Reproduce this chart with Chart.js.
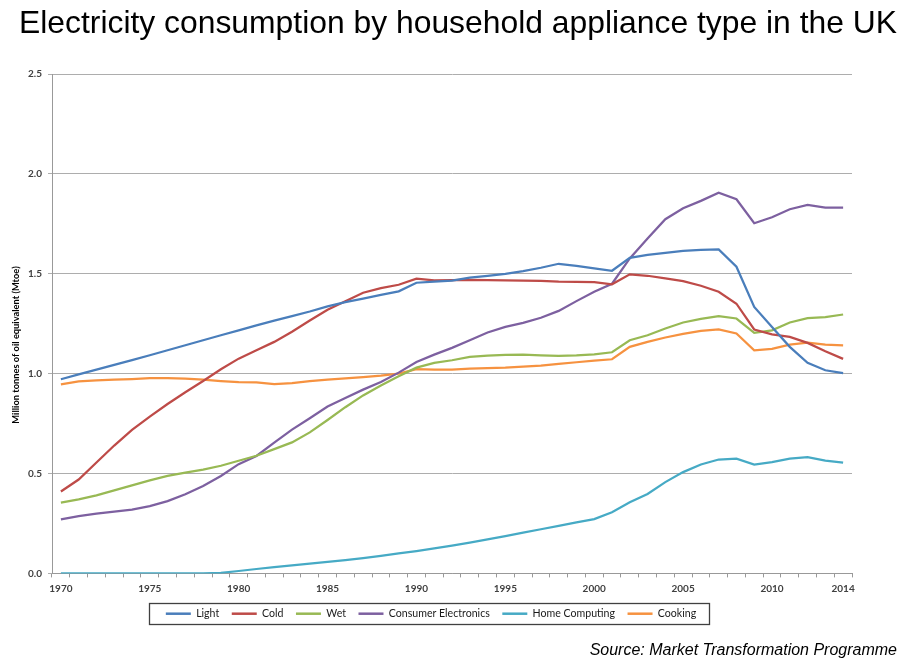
<!DOCTYPE html>
<html>
<head>
<meta charset="utf-8">
<script src="https://cdn.jsdelivr.net/npm/chart.js@4.4.1/dist/chart.umd.min.js"></script>
<style>
html,body{margin:0;padding:0;background:#fff;}
#wrap{width:907px;height:665px;position:relative;}
</style>
</head>
<body>
<div id="wrap"><canvas id="c"></canvas></div>
<script>
const chartTitle = 'Electricity consumption by household appliance type in the UK';
const sourceText = 'Source: Market Transformation Programme';
const yAxisTitle = 'Million tonnes of oil equivalent (Mtoe)';

const years = ['1970','1971','1972','1973','1974','1975','1976','1977','1978','1979',
  '1980','1981','1982','1983','1984','1985','1986','1987','1988','1989',
  '1990','1991','1992','1993','1994','1995','1996','1997','1998','1999',
  '2000','2001','2002','2003','2004','2005','2006','2007','2008','2009',
  '2010','2011','2012','2013','2014'];
const xTickLabels = ['1970','1975','1980','1985','1990','1995','2000','2005','2010','2014'];
const yTickValues = [0, 0.5, 1.0, 1.5, 2.0, 2.5];

const light = [0.972,0.996,1.020,1.044,1.068,1.092,1.117,1.142,1.167,1.192,
  1.217,1.242,1.265,1.288,1.311,1.337,1.358,1.376,1.394,1.412,
  1.455,1.461,1.466,1.481,1.490,1.500,1.513,1.530,1.550,1.540,
  1.527,1.515,1.580,1.595,1.605,1.614,1.620,1.622,1.535,1.334,
  1.234,1.134,1.054,1.017,1.003];
const cold = [0.410,0.470,0.555,0.640,0.718,0.785,0.848,0.907,0.963,1.022,
  1.075,1.117,1.159,1.210,1.266,1.320,1.362,1.405,1.428,1.445,
  1.475,1.467,1.468,1.470,1.468,1.467,1.466,1.465,1.461,1.460,
  1.458,1.447,1.497,1.490,1.477,1.463,1.440,1.410,1.350,1.221,
  1.197,1.184,1.154,1.112,1.074];
const wet = [0.354,0.371,0.391,0.416,0.441,0.466,0.488,0.505,0.520,0.539,
  0.564,0.589,0.622,0.656,0.706,0.768,0.832,0.891,0.941,0.987,
  1.030,1.054,1.067,1.084,1.090,1.094,1.095,1.092,1.089,1.092,
  1.097,1.107,1.167,1.192,1.226,1.256,1.274,1.288,1.276,1.204,
  1.217,1.256,1.278,1.283,1.296];
const consumerElectronics = [0.270,0.287,0.299,0.309,0.319,0.337,0.362,0.396,0.438,0.488,
  0.547,0.588,0.655,0.720,0.777,0.835,0.878,0.920,0.958,1.005,
  1.058,1.095,1.129,1.167,1.206,1.234,1.254,1.280,1.314,1.363,
  1.410,1.450,1.577,1.677,1.773,1.828,1.865,1.906,1.873,1.753,
  1.783,1.823,1.845,1.831,1.831];
const homeComputing = [0,0,0,0,0,0,0,0,0,0.003,
  0.012,0.022,0.031,0.040,0.049,0.058,0.067,0.077,0.088,0.100,
  0.112,0.125,0.139,0.154,0.170,0.187,0.204,0.221,0.238,0.255,
  0.272,0.306,0.356,0.398,0.457,0.507,0.545,0.570,0.574,0.545,
  0.557,0.574,0.582,0.565,0.555];
const cooking = [0.946,0.961,0.966,0.970,0.973,0.977,0.977,0.975,0.970,0.963,
  0.957,0.956,0.948,0.953,0.962,0.970,0.976,0.983,0.990,1.000,
  1.022,1.020,1.020,1.025,1.027,1.030,1.035,1.040,1.049,1.057,
  1.065,1.072,1.134,1.159,1.181,1.199,1.214,1.222,1.201,1.117,
  1.124,1.145,1.155,1.145,1.142];

const seriesNames = ['Light','Cold','Wet','Consumer Electronics','Home Computing','Cooking'];
const seriesData = [light, cold, wet, consumerElectronics, homeComputing, cooking];
const seriesColors = ['#4A7EBB','#BE4B48','#98B954','#7D60A0','#46AAC5','#F69240'];

const LEGEND_CENTER_X = 431;

const legendPlugin = {
  id: 'legendPlace',
  beforeDraw(chart) {
    const lg = chart.legend;
    if (!lg) return;
    const dx = LEGEND_CENTER_X - (lg.left + lg.right) / 2;
    lg.left += dx; lg.right += dx;
  },
  afterDraw(chart) {
    const lg = chart.legend;
    const ctx = chart.ctx;
    if (lg && lg.lineWidths) {
      const p = lg.options.labels.padding;
      const lw = lg.lineWidths[0];
      const startX = (lg.left + p + lg.right - lw) / 2;
      const endX = startX + lw - p;
      const cy = lg.top + p + 11 / 2;
      ctx.save();
      ctx.strokeStyle = '#404040';
      ctx.lineWidth = 1.3;
      ctx.strokeRect(Math.round(startX - 17) + 0.5, Math.round(cy - 10.5) + 0.5,
                     Math.round(endX - startX + 30), 21);
      ctx.restore();
    }
    // y axis title
    ctx.save();
    ctx.translate(16, 345);
    ctx.rotate(-Math.PI / 2);
    ctx.textAlign = 'center';
    ctx.textBaseline = 'middle';
    ctx.fillStyle = '#000';
    ctx.font = 'bold 9.3px Lato, sans-serif';
    ctx.fillText(yAxisTitle, 0, 0);
    ctx.restore();
  }
};

Chart.defaults.font.family = 'Lato, sans-serif';

new Chart(document.getElementById('c'), {
  type: 'line',
  data: {
    labels: years,
    datasets: seriesNames.map((n, i) => ({
      label: n,
      data: seriesData[i],
      borderColor: seriesColors[i],
      backgroundColor: seriesColors[i],
      borderWidth: 2.25,
      pointRadius: 0,
      tension: 0,
      fill: false
    }))
  },
  options: {
    responsive: true,
    maintainAspectRatio: false,
    animation: false,
    events: [],
    layout: { padding: { left: 19, right: 10, top: 0, bottom: 0 } },
    plugins: {
      title: {
        display: true, text: chartTitle, color: '#000',
        font: { family: '"Liberation Sans", Arial, sans-serif', size: 32, weight: 'normal' },
        padding: { top: 4.8, bottom: 30.8 }
      },
      subtitle: {
        display: true, text: sourceText, position: 'bottom', align: 'end', color: '#000',
        font: { family: '"Liberation Sans", Arial, sans-serif', size: 16, style: 'italic', weight: 'normal' },
        padding: { top: 12.4, bottom: 4.4 }
      },
      legend: {
        position: 'bottom',
        labels: {
          boxWidth: 25, boxHeight: 2.5, padding: 12.5, color: '#1a1a1a',
          font: { size: 10.6 },
          generateLabels: (chart) => Chart.defaults.plugins.legend.labels.generateLabels(chart)
            .map(l => Object.assign(l, { lineWidth: 0, fillStyle: l.strokeStyle }))
        }
      },
      tooltip: { enabled: false }
    },
    scales: {
      x: {
        offset: true,
        ticks: {
          autoSkip: false, maxRotation: 0, minRotation: 0, padding: 5, color: '#404040',
          font: { size: 10, weight: 'bold' },
          callback: (v, i) => xTickLabels.includes(years[i]) ? years[i] : ''
        },
        grid: { offset: true, drawOnChartArea: false, drawTicks: true, tickLength: 4, color: '#999' },
        border: { color: '#999' },
        afterFit: (s) => { s.height = 22.5; }
      },
      y: {
        min: 0, max: 2.5,
        afterBuildTicks: (s) => { s.ticks = yTickValues.map(v => ({ value: v })); },
        ticks: {
          padding: 6, color: '#404040', font: { size: 10, weight: 'bold' },
          callback: (v) => Number(v).toFixed(1)
        },
        grid: { color: '#adadad', tickLength: 4 },
        border: { color: '#999' },
        afterFit: (s) => { s.width = 33; }
      },
      yr: {
        position: 'right', display: true,
        grid: { display: false }, ticks: { display: false }, border: { display: false },
        afterFit: (s) => { s.width = 45; }
      }
    }
  },
  plugins: [legendPlugin]
});
</script>
</body>
</html>
